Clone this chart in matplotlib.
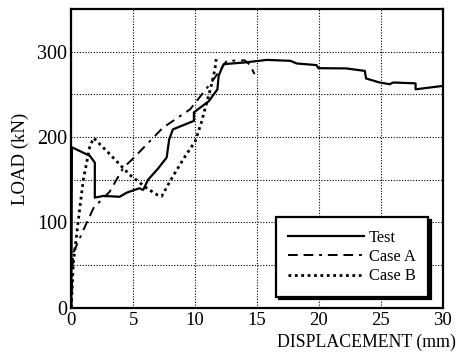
import matplotlib
matplotlib.use("Agg")
import matplotlib.pyplot as plt

plt.rcParams['font.family'] = ['Liberation Serif', 'DejaVu Serif']

test_x = [0, 0.05, 1.5, 1.9, 1.9, 2.6, 3.9, 4.5, 5.5, 5.8, 6.2, 7.0, 7.7, 7.9, 8.2, 9.9, 9.9, 11.1, 11.8,
          11.9, 12.3, 14.0, 15.8, 17.7, 18.2, 19.8, 19.95, 22.2, 23.7, 23.8, 24.9, 25.7, 26.0, 27.8, 27.8, 30]
test_y = [0, 188, 178, 170, 129, 131, 130, 135, 140, 138, 150, 163, 176, 197, 209, 219, 229, 242, 256,
          272, 285.5, 287.5, 290.5, 289.4, 286.3, 284.4, 280.8, 280.5, 277.6, 268.7, 264, 262, 264, 263, 256, 260]

caseA_x = [0, 0.15, 1.1, 1.8, 3.1, 4.2, 5.0, 7.4, 9.6, 11.3, 12.55, 14.0, 14.4, 14.8]
caseA_y = [0, 64, 95, 117, 136, 164, 175, 211, 232.6, 264, 289.4, 290, 285, 273.8]

caseB_x = [0, 0.16, 0.57, 0.97, 1.5, 1.8, 3.0, 4.7, 6.1, 6.9, 7.3, 8.2, 9.2, 10.0, 10.5, 10.9, 11.3, 11.6, 11.7]
caseB_y = [0, 52, 103, 150, 189, 199, 181.6, 156, 140, 132.6, 130.6, 154, 177.6, 195, 217, 238.5, 260, 279.6, 291.4]

xticks = [0, 5, 10, 15, 20, 25, 30]
yticks = [0, 100, 200, 300]
ygrid_minor = [50, 150, 250]

fig = plt.figure(figsize=(4.57, 3.52), dpi=100)
ax = fig.add_axes([0.156, 0.126, 0.969 - 0.156, 0.974 - 0.126])

ax.plot(test_x, test_y, color='black', lw=1.6, label='Test', zorder=3)
ax.plot(caseA_x, caseA_y, color='black', lw=1.4, linestyle=(0, (5, 3, 5, 3, 1.5, 3)), label='Case A', zorder=3)
ax.plot(caseB_x, caseB_y, color='black', lw=2.0, linestyle=(0, (1.0, 1.3)), label='Case B', zorder=3)

ax.set_xlim(0, 30)
ax.set_ylim(0, 350)
ax.set_xticks(xticks)
ax.set_yticks(yticks)
ax.set_yticks(ygrid_minor, minor=True)
ax.tick_params(which='both', length=0)
ax.tick_params(axis='x', labelsize=13.5, pad=3)
ax.tick_params(axis='y', labelsize=14.5, pad=3)
ax.grid(True, which='both', color='black', linestyle=(0, (1, 1.5)), linewidth=0.8)
ax.set_axisbelow(True)
for s in ax.spines.values():
    s.set_linewidth(1.6)
    s.set_color('black')

ax.set_ylabel('LOAD (kN)', fontsize=13.5, labelpad=6)
fig.text(0.997, 0.028, 'DISPLACEMENT (mm)', ha='right', va='center', fontsize=12.8)

leg = ax.legend(loc='lower right', bbox_to_anchor=(0.960, 0.037), borderaxespad=0,
                fontsize=11.8, handlelength=4.6, handletextpad=0.3, labelspacing=0.2,
                fancybox=False, frameon=True, edgecolor='black',
                shadow={'facecolor': 'black', 'edgecolor': 'black', 'alpha': 1},
                borderpad=0.75)
leg.get_frame().set_linewidth(1.6)

fig.savefig('out.png', dpi=100)
